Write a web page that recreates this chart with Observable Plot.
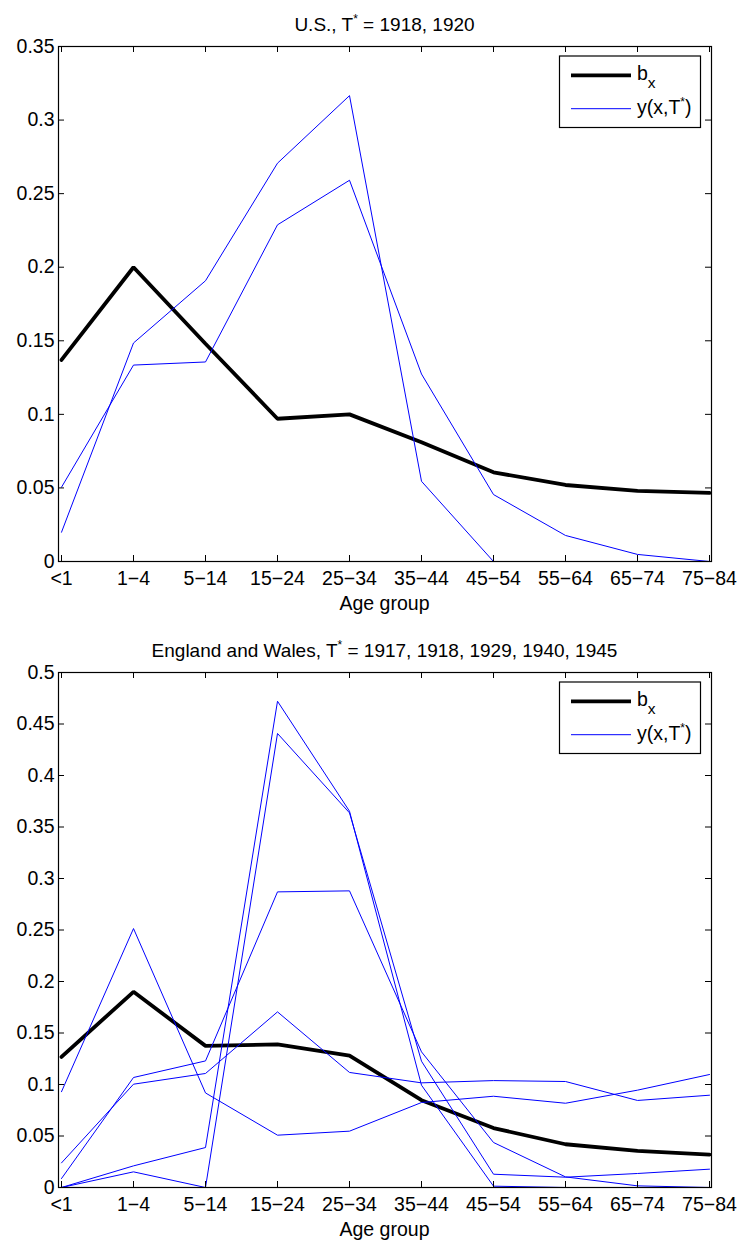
<!DOCTYPE html>
<html><head><meta charset="utf-8">
<script src="https://cdn.jsdelivr.net/npm/d3@7"></script>
<script src="https://cdn.jsdelivr.net/npm/@observablehq/plot@0.6"></script>
<style>
body{margin:0;background:#fff;font-family:"Liberation Sans",Arial,Helvetica,sans-serif;}
#c svg{display:block;}
</style></head><body><div id="c"></div>
<script>
// ---- data ----
const ageGroups = ["<1","1\u22124","5\u221214","15\u221224","25\u221234","35\u221244","45\u221254","55\u221264","65\u221274","75\u221284"];

const usBx   = [0.137, 0.200, 0.148, 0.097, 0.100, 0.081, 0.0606, 0.052, 0.048, 0.0466];
const usYa   = [0.0199, 0.1485, 0.1908, 0.2707, 0.3166, 0.0545, 0, 0, 0, 0];
const usYb   = [0.0505, 0.1335, 0.1356, 0.2288, 0.2591, 0.1274, 0.0455, 0.0177, 0.0048, 0];
const usYTicks = [0, 0.05, 0.1, 0.15, 0.2, 0.25, 0.3, 0.35];

const ewBx   = [0.1268, 0.190, 0.1375, 0.139, 0.128, 0.0848, 0.0577, 0.042, 0.0356, 0.032];
const ewYa   = [0.093, 0.2514, 0.0918, 0.0508, 0.0547, 0.0825, 0.0886, 0.0818, 0.0945, 0.1097];
const ewYb   = [0.0239, 0.1003, 0.1107, 0.1705, 0.1117, 0.1016, 0.1038, 0.1029, 0.0845, 0.0896];
const ewYc   = [0.0087, 0.1068, 0.1229, 0.287, 0.288, 0.1317, 0.0437, 0.0103, 0.0016, 0];
const ewYd   = [0, 0.021, 0.0388, 0.4721, 0.3653, 0.0993, 0.0013, 0, 0, 0];
const ewYe   = [0, 0.0152, 0, 0.4408, 0.3637, 0.1226, 0.0129, 0.0100, 0.0136, 0.0178];
const ewYTicks = [0, 0.05, 0.1, 0.15, 0.2, 0.25, 0.3, 0.35, 0.4, 0.45, 0.5];

const usTitle = ["U.S., T", "*", " = 1918, 1920"];
const ewTitle = ["England and Wales, T", "*", " = 1917, 1918, 1929, 1940, 1945"];
const xLabel = "Age group";

// ---- drawing ----
const W = 741, ML = 58, MR = 30, FS = 19.5;
const FONT = '"Liberation Sans", Arial, Helvetica, sans-serif';

function panel(cfg) {
  const innerW = W - ML - MR;
  const innerH = cfg.height - cfg.marginTop - cfg.marginBottom;
  const bxData = ageGroups.map((a, i) => ({age: a, v: cfg.bx[i]}));
  const yData = cfg.ys.flatMap((s, k) => ageGroups.map((a, i) => ({age: a, v: s[i], s: k})));
  const svg = Plot.plot({
    width: W, height: cfg.height,
    marginLeft: ML, marginRight: MR, marginTop: cfg.marginTop, marginBottom: cfg.marginBottom,
    style: {fontFamily: FONT, fontSize: FS + "px", color: "black", background: "white"},
    x: {type: "point", domain: ageGroups, padding: 0, label: null},
    y: {domain: [0, cfg.yMax], label: null},
    marks: [
      Plot.line(bxData, {x: "age", y: "v", stroke: "black", strokeWidth: 3.8, strokeLinejoin: "miter"}),
      Plot.line(yData, {x: "age", y: "v", z: "s", stroke: "#0000ff", strokeWidth: 1}),
      Plot.tickY(cfg.yTicks, {y: d => d, insetRight: innerW - 6, stroke: "black"}),
      Plot.tickY(cfg.yTicks, {y: d => d, insetLeft: innerW - 6, stroke: "black"}),
      Plot.tickX(ageGroups, {x: d => d, insetBottom: innerH - 6, stroke: "black"}),
      Plot.tickX(ageGroups, {x: d => d, insetTop: innerH - 6, stroke: "black"}),
      Plot.frame({stroke: "black", strokeWidth: 1.2}),
      Plot.axisY(cfg.yTicks, {tickSize: 0, tickPadding: 4, tickFormat: d => String(d), fontSize: FS, label: null}),
      Plot.axisX({tickSize: 0, tickPadding: 10, fontSize: FS, label: null})
    ]
  });
  const s = d3.select(svg);
  const top = cfg.marginTop, bottom = cfg.height - cfg.marginBottom;
  const cx = ML + innerW / 2;
  // title
  const t = s.append("text").attr("x", cx).attr("y", top - 15.4)
    .attr("text-anchor", "middle").attr("font-size", 19).attr("font-family", FONT).attr("fill", "black");
  t.append("tspan").text(cfg.title[0]);
  t.append("tspan").attr("font-size", 12).attr("dy", -8).text(cfg.title[1]);
  t.append("tspan").attr("dy", 8).text(cfg.title[2]);
  // x label
  s.append("text").attr("x", cx).attr("y", bottom + 48.5).attr("text-anchor", "middle")
    .attr("font-size", FS).attr("font-family", FONT).attr("fill", "black").text(xLabel);
  // legend
  const g = s.append("g").attr("text-anchor", "start");
  const bx0 = 559.5, by0 = top + 10;
  g.append("rect").attr("x", bx0).attr("y", by0).attr("width", 141).attr("height", 71.5)
    .attr("fill", "white").attr("stroke", "black").attr("stroke-width", 1.2);
  g.append("line").attr("x1", 571).attr("x2", 631).attr("y1", top + 29.4).attr("y2", top + 29.4)
    .attr("stroke", "black").attr("stroke-width", 3.8);
  g.append("line").attr("x1", 571).attr("x2", 631).attr("y1", top + 62.7).attr("y2", top + 62.7)
    .attr("stroke", "#0000ff").attr("stroke-width", 1);
  const l1 = g.append("text").attr("x", 637).attr("y", top + 34).attr("font-size", FS)
    .attr("text-anchor", "start").attr("font-family", FONT).attr("fill", "black");
  l1.append("tspan").text("b");
  l1.append("tspan").attr("font-size", 15.5).attr("dy", 8).text("x");
  const l2 = g.append("text").attr("x", 637).attr("y", top + 68).attr("font-size", FS)
    .attr("text-anchor", "start").attr("font-family", FONT).attr("fill", "black");
  l2.append("tspan").text("y(x,T");
  l2.append("tspan").attr("font-size", 12).attr("dy", -8).text("*");
  l2.append("tspan").attr("dy", 8).text(")");
  return svg;
}

const c = document.getElementById("c");
c.appendChild(panel({bx: usBx, ys: [usYa, usYb], yTicks: usYTicks, yMax: 0.35,
  height: 620, marginTop: 46, marginBottom: 59, title: usTitle}));
c.appendChild(panel({bx: ewBx, ys: [ewYa, ewYb, ewYc, ewYd, ewYe], yTicks: ewYTicks, yMax: 0.5,
  height: 621, marginTop: 52, marginBottom: 54, title: ewTitle}));
</script>
</body></html>
